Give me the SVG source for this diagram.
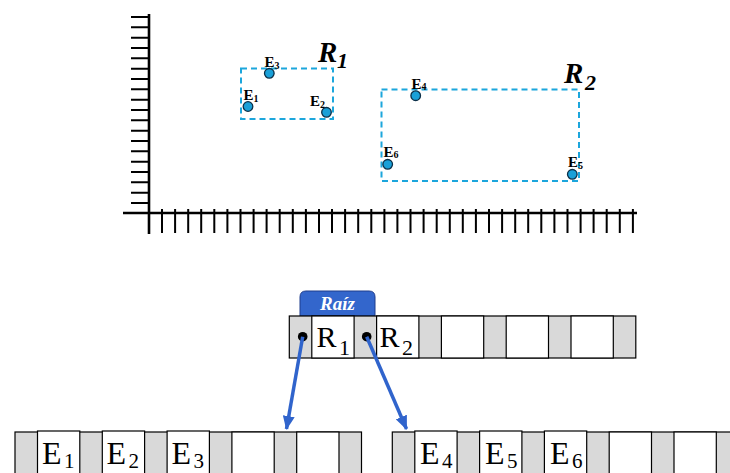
<svg xmlns="http://www.w3.org/2000/svg" width="730" height="473" viewBox="0 0 730 473">
  <style>
    .axis { stroke: #000; stroke-width: 2.6; fill: none; }
    .tick { stroke: #000; stroke-width: 2; fill: none; }
    .mbr { fill: none; stroke: #1ca6dc; stroke-width: 2; stroke-dasharray: 6 4; }
    .pt { fill: #1aa0d8; stroke: #0b2f48; stroke-width: 1.3; }
    .plab { font-family: "Liberation Serif", "Times New Roman", serif; font-weight: bold; font-size: 15px; fill: #000; }
    .plab .s { font-size: 10px; }
    .rlab { font-family: "Liberation Serif", "Times New Roman", serif; font-weight: bold; font-style: italic; font-size: 29px; fill: #000; }
    .rlab .s { font-size: 22px; }
    .gray { fill: #d9d9d9; stroke: #000; stroke-width: 1.2; }
    .cell { fill: #fff; stroke: #000; stroke-width: 1.2; }
    .ctext { font-family: "Liberation Serif", "Times New Roman", serif; font-size: 30px; fill: #000; }
    .ctext .s { font-size: 22px; }
    .ltext { font-family: "Liberation Serif", "Times New Roman", serif; font-size: 32px; fill: #000; }
    .ltext .s { font-size: 21px; }
    .link { stroke: #3064cc; stroke-width: 3.5; fill: none; }
    .dot { fill: #000; }
  </style>
  <defs>
    <marker id="head" viewBox="0 0 14 12" refX="13" refY="6" markerWidth="14" markerHeight="12" markerUnits="userSpaceOnUse" orient="auto">
      <path d="M0,0 L14,6 L0,12 Z" fill="#3064cc"/>
    </marker>
  </defs>
  <rect width="730" height="473" fill="#fff"/>

  <!-- coordinate axes with tick marks -->
  <g id="axes">
    <path class="tick" d="M131,17H149 M131,27.3H149 M131,37.7H149 M131,48H149 M131,58.3H149 M131,68.7H149 M131,79H149 M131,89.3H149 M131,99.7H149 M131,110H149 M131,120.3H149 M131,130.7H149 M131,141H149 M131,151.3H149 M131,161.7H149 M131,172H149 M131,182.3H149 M131,192.7H149 M131,203H149"/>
    <path class="tick" d="M162,209V233 M175.1,209V233 M188.2,209V233 M201.2,209V233 M214.3,209V233 M227.4,209V233 M240.5,209V233 M253.6,209V233 M266.6,209V233 M279.7,209V233 M292.8,209V233 M305.9,209V233 M319,209V233 M332,209V233 M345.1,209V233 M358.2,209V233 M371.3,209V233 M384.4,209V233 M397.4,209V233 M410.5,209V233 M423.6,209V233 M436.7,209V233 M449.8,209V233 M462.8,209V233 M475.9,209V233 M489,209V233 M502.1,209V233 M515.2,209V233 M528.2,209V233 M541.3,209V233 M554.4,209V233 M567.5,209V233 M580.6,209V233 M593.6,209V233 M606.7,209V233 M619.8,209V233 M632.9,209V233"/>
    <path class="axis" d="M149,14V234 M123,213H637"/>
  </g>

  <!-- bounding region R1 -->
  <g id="region-r1">
    <rect class="mbr" x="241" y="68.5" width="92" height="50.5"/>
    <text class="rlab" x="318" y="61.5">R<tspan class="s" x="337" y="68">1</tspan></text>
  </g>
  <!-- bounding region R2 -->
  <g id="region-r2">
    <rect class="mbr" x="381.5" y="89.5" width="197.5" height="91.5"/>
    <text class="rlab" x="564" y="82.5">R<tspan class="s" x="585" y="90">2</tspan></text>
  </g>

  <!-- spatial objects -->
  <g id="e1"><circle class="pt" cx="248" cy="106.5" r="4.8"/><text class="plab" x="243.5" y="100">E<tspan class="s" dy="2">1</tspan></text></g>
  <g id="e2"><circle class="pt" cx="326.5" cy="112.3" r="4.8"/><text class="plab" x="310" y="106">E<tspan class="s" dy="2">2</tspan></text></g>
  <g id="e3"><circle class="pt" cx="269.3" cy="73.3" r="4.8"/><text class="plab" x="264.5" y="67">E<tspan class="s" dy="2">3</tspan></text></g>
  <g id="e4"><circle class="pt" cx="415.7" cy="95.7" r="4.8"/><text class="plab" x="411.5" y="88.5">E<tspan class="s" dy="1">4</tspan></text></g>
  <g id="e5"><circle class="pt" cx="572.3" cy="174.3" r="4.8"/><text class="plab" x="568" y="167">E<tspan class="s" dy="2">5</tspan></text></g>
  <g id="e6"><circle class="pt" cx="387.7" cy="164.3" r="4.8"/><text class="plab" x="383.5" y="157">E<tspan class="s" dy="1">6</tspan></text></g>

  <!-- root node -->
  <g id="root">
    <path d="M300,316V297Q300,291 306,291H369Q375,291 375,297V316Z" fill="#3366cc" stroke="#1e3c8c" stroke-width="1"/>
    <text x="337.5" y="309.5" text-anchor="middle" font-family="Liberation Serif, Times New Roman, serif" font-weight="bold" font-style="italic" font-size="19" fill="#fff">Raíz</text>
    <rect class="gray" x="289.3" y="316" width="346.5" height="42"/>
    <rect class="cell" x="311.8" y="316" width="42.3" height="42"/>
    <rect class="cell" x="376.6" y="316" width="42.3" height="42"/>
    <rect class="cell" x="441.4" y="316" width="42.3" height="42"/>
    <rect class="cell" x="506.2" y="316" width="42.3" height="42"/>
    <rect class="cell" x="571" y="316" width="42.3" height="42"/>
    <text class="ctext" x="316.5" y="347">R<tspan class="s" x="339" y="355">1</tspan></text>
    <text class="ctext" x="379.5" y="347">R<tspan class="s" x="402" y="355">2</tspan></text>
    <circle class="dot" cx="302.7" cy="336.7" r="4.8"/>
    <circle class="dot" cx="366.7" cy="336.7" r="4.8"/>
  </g>

  <!-- leaf node 1 -->
  <g id="leaf1">
    <rect class="gray" x="15" y="432" width="346.5" height="50"/>
    <rect class="cell" x="37.5" y="431" width="42.3" height="51"/>
    <rect class="cell" x="102.3" y="431" width="42.3" height="51"/>
    <rect class="cell" x="167.1" y="431" width="42.3" height="51"/>
    <rect class="cell" x="231.9" y="432" width="42.3" height="50"/>
    <rect class="cell" x="296.7" y="432" width="42.3" height="50"/>
    <text class="ltext" x="42" y="464">E<tspan class="s" x="64" y="468">1</tspan></text>
    <text class="ltext" x="106.5" y="464">E<tspan class="s" x="128.5" y="468">2</tspan></text>
    <text class="ltext" x="171.5" y="464">E<tspan class="s" x="193.5" y="468">3</tspan></text>
  </g>

  <!-- leaf node 2 -->
  <g id="leaf2">
    <rect class="gray" x="392.3" y="432" width="346.5" height="50"/>
    <rect class="cell" x="414.8" y="431" width="42.3" height="51"/>
    <rect class="cell" x="479.6" y="431" width="42.3" height="51"/>
    <rect class="cell" x="544.4" y="431" width="42.3" height="51"/>
    <rect class="cell" x="609.2" y="432" width="42.3" height="50"/>
    <rect class="cell" x="674" y="432" width="42.3" height="50"/>
    <text class="ltext" x="420" y="464">E<tspan class="s" x="442" y="468">4</tspan></text>
    <text class="ltext" x="485" y="464">E<tspan class="s" x="507" y="468">5</tspan></text>
    <text class="ltext" x="550" y="464">E<tspan class="s" x="572" y="468">6</tspan></text>
  </g>

  <!-- child pointers -->
  <g id="connectors">
    <line class="link" x1="302.7" y1="336.7" x2="286.5" y2="429" marker-end="url(#head)"/>
    <line class="link" x1="366.7" y1="336.7" x2="406.5" y2="429" marker-end="url(#head)"/>
  </g>
</svg>
